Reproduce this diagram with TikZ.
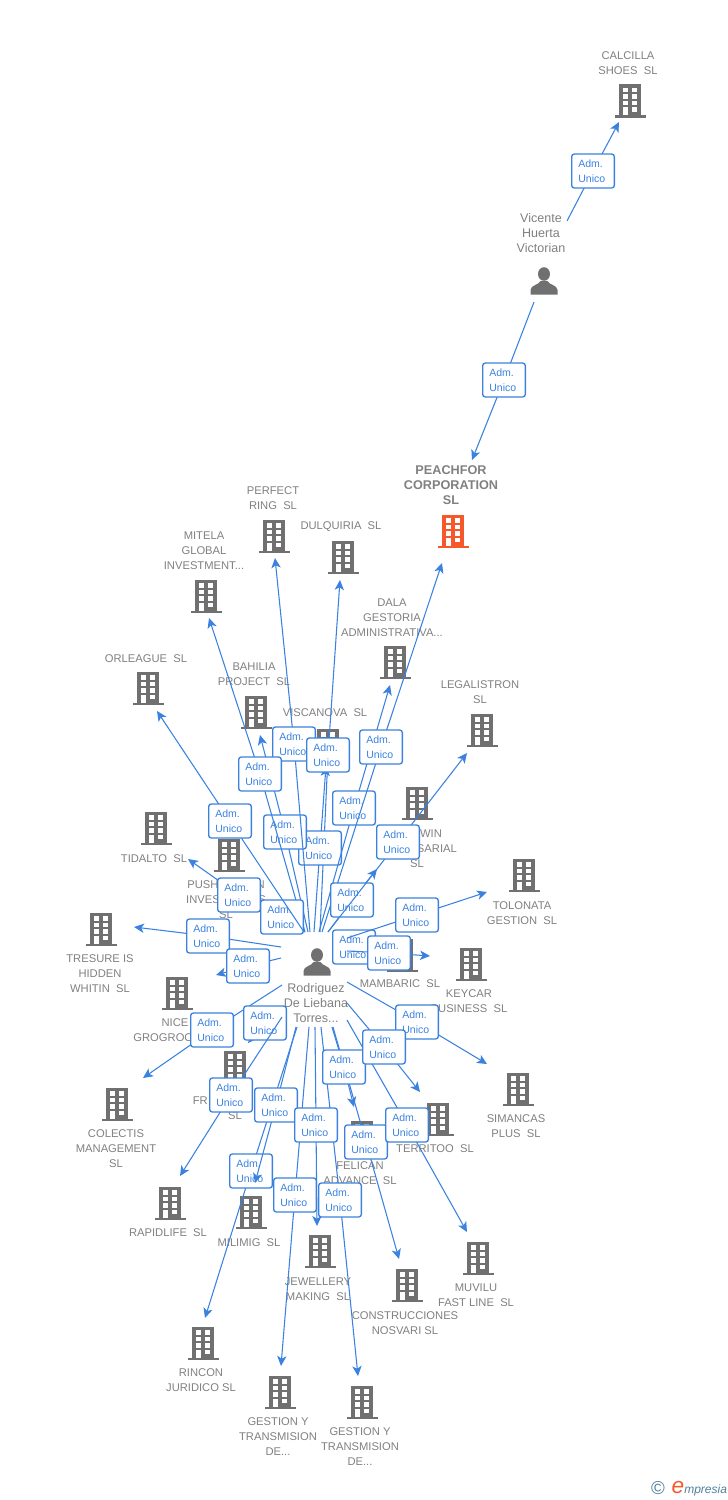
\documentclass[tikz,border=0pt]{standalone}
\usepackage{fontspec}
\setmainfont{Liberation Sans}
\usetikzlibrary{arrows.meta}
\definecolor{linkblue}{HTML}{3B82E0}
\definecolor{iconcol}{HTML}{707070}
\definecolor{namecol}{HTML}{808080}
\definecolor{peachcol}{HTML}{F4582B}
\definecolor{markcol}{HTML}{4F7F9C}
\tikzset{
    link/.style={draw=linkblue, line width=.8pt, -{Stealth[length=7.5pt, width=7pt, inset=2pt]}},
    admbox/.style={draw=linkblue, line width=1pt, fill=white, rounded corners=2pt, text=linkblue,
        minimum height=25.5pt, text width=22pt, inner xsep=5pt, inner ysep=0pt, align=left,
        font=\fontsize{7.9}{11.25}\selectfont},
    namelbl/.style={text=namecol, inner sep=0pt, align=center, font=\fontsize{8.4}{11.25}\selectfont},
    personlbl/.style={text=namecol, inner sep=0pt, align=center, font=\fontsize{9.4}{11.25}\selectfont},
    pics/building/.style={code={
        \fill[pic actions] (-11,-16.5) rectangle (11,15);
        \fill[pic actions] (-15.5,14.5) rectangle (15.5,17);
        \foreach \wy in {-13,-6.4,0.2}{
            \fill[white] (-7,\wy) rectangle (-2.3,\wy+4.5);
            \fill[white] (2.3,\wy) rectangle (7,\wy+4.5);
        }
        \fill[white] (-7,6.8) rectangle (-2.3,14.5);
        \fill[white] (2.3,6.8) rectangle (7,11.3);
    }},
    pics/personicon/.style={code={
        \fill[iconcol] (0,-7) ellipse (6 and 6.8);
        \fill[iconcol] (-13.5,13.5) -- (-13.5,9) .. controls (-13.5,4) and (-5,4) .. (-3.5,0)
            -- (3.5,0) .. controls (5,4) and (13.5,4) .. (13.5,9) -- (13.5,13.5) -- cycle;
    }},
}
\begin{document}
\begin{tikzpicture}[x=.75pt,y=-.75pt]
    \useasboundingbox (0,0) rectangle (728,1500);
    \foreach \nm/\ix/\iy/\lx/\ly/\txt in {
        calci/630/100.5/628/62.5/{CALCILLA\\SHOES~~SL},
        perfe/274/536/273/497.5/{PERFECT\\RING~~SL},
        dulqu/343/557/341/526/{DULQUIRIA~~SL},
        mitel/206/596/204/550/{MITELA\\GLOBAL\\INVESTMENT...},
        dala/395/662/392/617/{DALA\\GESTORIA\\ADMINISTRATIVA...},
        orlea/148/688/146/658/{ORLEAGUE~~SL},
        bahil/256/712/254/673.5/{BAHILIA\\PROJECT~~SL},
        legal/482/730/480/691.5/{LEGALISTRON\\SL},
        visca/328/745/325/712/{VISCANOVA~~SL},
        twin/417/803/417/848/{\hspace*{21pt}WIN\\EMPRESARIAL\\SL},
        tidal/156/828/154/858/{TIDALTO~~SL},
        pushk/229/855/226/899/{PUSH\hspace{28.5pt}N\\INVESTMENTS\\SL},
        tresu/101/929/100/973/{TRESURE IS\\HIDDEN\\WHITIN~~SL},
        tolon/524/875/522/912.5/{TOLONATA\\GESTION~~SL},
        keyca/471/964/469/1000.5/{KEYCAR\\BUSINESS~~SL},
        mamba/402/955/400/983/{MAMBARIC~~SL},
        nice/177/993/177/1029.5/{NICE\hspace*{3pt}\\GROGROC\hspace*{21pt}},
        frank/235/1067/235/1107.5/{FR\hspace*{52pt}\\SL},
        simanc/518/1089/516/1125.5/{SIMANCAS\\PLUS~~SL},
        colec/117/1104/116/1148/{COLECTIS\\MANAGEMENT\\SL},
        terri/438/1119/435/1148/{TERRITOO~~SL},
        felic/362/1137/360/1172.5/{FELICAN\\ADVANCE~~SL},
        rapid/170/1203/168/1232/{RAPIDLIFE~~SL},
        milim/251/1212/249/1242/{MILIMIG~~SL},
        jewel/320/1251/318/1288.5/{JEWELLERY\\MAKING~~SL},
        muvil/478/1258/476/1294.5/{MUVILU\\FAST LINE~~SL},
        const/407/1285/405/1322.5/{CONSTRUCCIONES\\NOSVARI SL},
        rinco/203/1343/201/1379.5/{RINCON\\JURIDICO SL},
        gesta/280/1392/278/1436/{GESTION Y\\TRANSMISION\\DE...},
        gestb/362/1402/360/1446/{GESTION Y\\TRANSMISION\\DE...}%
    }{
        \pic[fill=iconcol] at (\ix,\iy) {building};
        \node[namelbl] (l\nm) at (\lx,\ly+1) {\txt};
    }
    \pic[fill=peachcol] at (453,531) {building};
    \node[namelbl, font=\fontsize{9.5}{11.25}\selectfont\bfseries] (lpeach) at (451,485) {PEACHFOR\\CORPORATION\\SL};
    \pic at (544,281) {personicon};
    \node[personlbl] (vicente) at (541,233) {Vicente\\Huerta\\Victorian};
    \pic at (317,962) {personicon};
    \node[personlbl] (rodriguez) at (316,1003) {Rodriguez\\De Liebana\\Torres...};
    \coordinate (sdulqu) at (320,932);
    \coordinate (mdulqu) at (328,755);
    \coordinate (tdulqu) at (340,580);
    \draw[link] (sdulqu) -- (mdulqu) -- (tdulqu);
    \foreach \nm/\sx/\sy/\bx/\by/\tx/\ty in {
        calci/567/221/593/171/619/122,
        pfvic/534/302/504/380/472/460,
        visca/314/932/320/848/326/766,
        bahil/308/932/285/832/260/735,
        perfe/310/932/294/744/275/558,
        mitel/305/932/260/774/209/618,
        dala/319/932/354/808/390/685,
        peach/322/932/381/747/442/563,
        twin/328/932/352/900/377/869,
        legal/328/932/398/842/467/753,
        tidal/290/931/239/895/188/859,
        pushk/305/932/282/917/263/905,
        orlea/304/932/230/821/157/711,
        tresu/281/947/208/936/134/927,
        nice/281/958/248/966/216/975,
        mamba/345/950/354/947/363/945,
        tolon/347/938/417/915/487/892,
        keyca/347/951/389/953/430/956,
        simanc/347/982/417/1022/487/1064,
        colec/282/985/212/1030/143/1078,
        frank/280/1008/265/1023/248/1043,
        rapid/282/1017/231/1095/180/1176,
        rinco/297/1027/251/1171/205/1318,
        milim/296/1027/276/1105/255/1183,
        gesta/309/1027/295/1195/281/1366,
        gestb/321/1027/340/1200/358/1376,
        jewel/315/1027/316/1125/317/1226,
        const/333/1027/366/1142/399/1259,
        felic/332/1027/344/1067/354/1107,
        muvil/347/1020/407/1125/467/1232,
        terri/347/1003/384/1047/420/1092%
    }{
        \coordinate (s\nm) at (\sx,\sy);
        \coordinate (m\nm) at (\bx,\by);
        \coordinate (t\nm) at (\tx,\ty);
        \draw[link] (s\nm) -- (m\nm) -- (t\nm);
        \node[admbox] (b\nm) at (m\nm) {Adm.\\Unico};
    }
    \node[admbox] (bdulqu) at (mdulqu) {Adm.\\Unico};
    \node[text=markcol, inner sep=0pt, font=\fontsize{14}{14}\selectfont] (copymark) at (658,1488.5) {©};
    \node[text=peachcol, inner sep=0pt, font=\fontsize{17}{17}\selectfont\itshape] (emark) at (678,1487) {e};
    \node[text=markcol, inner sep=0pt, anchor=west, font=\fontsize{9}{11}\selectfont\itshape] (empresia) at (684,1490) {mpresia};
\end{tikzpicture}
\end{document}
